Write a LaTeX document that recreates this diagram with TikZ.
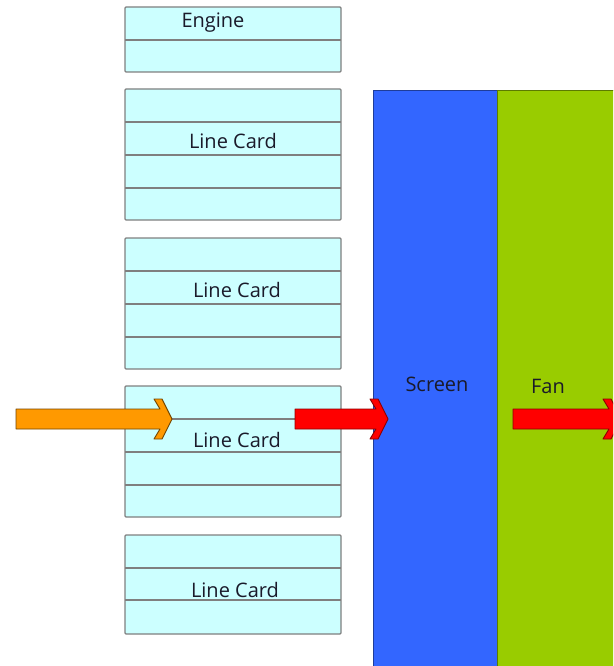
\documentclass[tikz,border=0pt]{standalone}
\usepackage{fontspec}
\setmainfont{Open Sans}
\definecolor{cardfill}{HTML}{CCFFFF}
\definecolor{cardline}{HTML}{7F7F7F}
\definecolor{screenblue}{HTML}{3366FF}
\definecolor{fangreen}{HTML}{99CC00}
\definecolor{arroworange}{HTML}{FF9900}
\definecolor{arrowred}{HTML}{FF0000}
\definecolor{labeltext}{HTML}{1A1A2A}
\newcommand{\blockarrowshape}[4]{%
  \draw[#4] (#1,{#3-10}) -- (#2,{#3-10}) -- ({#2-6},{#3-20}) -- ({#2+2},{#3-20})
    -- ({#2+12},#3) -- ({#2+2},{#3+20}) -- ({#2-6},{#3+20}) -- (#2,{#3+10})
    -- (#1,{#3+10}) -- cycle;}
\begin{document}
\begin{tikzpicture}[x=1pt,y=-1pt,
  card/.style={draw=cardline, fill=cardfill, line width=1.3pt, rounded corners=1pt,
    minimum width=216pt, anchor=north west, inner sep=0pt, outer sep=0pt},
  sep/.style={draw=cardline, line width=1.3pt},
  lbl/.style={anchor=base, inner sep=0pt, font=\fontsize{20}{24}\selectfont, text=labeltext},
  panel/.style={anchor=north west, inner sep=0pt, outer sep=0pt, line width=0.8pt},
  oarrow/.style={fill=arroworange, draw=black!55!arroworange, line width=0.9pt, line join=round},
  rarrow/.style={fill=arrowred, draw=black!45!arrowred, line width=0.9pt, line join=round}]
\useasboundingbox (0,0) rectangle (613,666);
\clip (0,0) rectangle (613,666);
% panels
\node[panel, draw=black!40!screenblue, fill=screenblue, minimum width=124pt, minimum height=600pt] (screen) at (373,90) {};
\node[panel, draw=black!40!fangreen, fill=fangreen, minimum width=150pt, minimum height=600pt] (fan) at (497,90) {};
\node[lbl] (screenlbl) at (437,391) {Screen};
\node[lbl] (fanlbl) at (548,393) {Fan};
% engine
\node[card, minimum height=65pt] (engine) at (125,7) {};
\draw[sep] (engine.west |- 0,40) -- (engine.east |- 0,40);
\node[lbl] (enginelbl) at (213,28) {Engine};
% line card 1
\node[card, minimum height=131pt] (lc1) at (125,89) {};
\foreach \yy in {122,155,188} \draw[sep] (lc1.west |- 0,\yy) -- (lc1.east |- 0,\yy);
\node[lbl] (lc1lbl) at (233,148) {Line Card};
% line card 2
\node[card, minimum height=131pt] (lc2) at (125,238) {};
\foreach \yy in {271,304,337} \draw[sep] (lc2.west |- 0,\yy) -- (lc2.east |- 0,\yy);
\node[lbl] (lc2lbl) at (237,297) {Line Card};
% line card 3
\node[card, minimum height=131pt] (lc3) at (125,386) {};
\foreach \yy in {419,452,485} \draw[sep] (lc3.west |- 0,\yy) -- (lc3.east |- 0,\yy);
\node[lbl] (lc3lbl) at (237,447) {Line Card};
% line card 4
\node[card, minimum height=99pt] (lc4) at (125,535) {};
\foreach \yy in {568,600} \draw[sep] (lc4.west |- 0,\yy) -- (lc4.east |- 0,\yy);
\node[lbl] (lc4lbl) at (235,597) {Line Card};
% block arrows
\blockarrowshape{16}{160}{419}{oarrow}
\blockarrowshape{295}{376}{419}{rarrow}
\blockarrowshape{513}{609}{419}{rarrow}
\end{tikzpicture}
\end{document}
